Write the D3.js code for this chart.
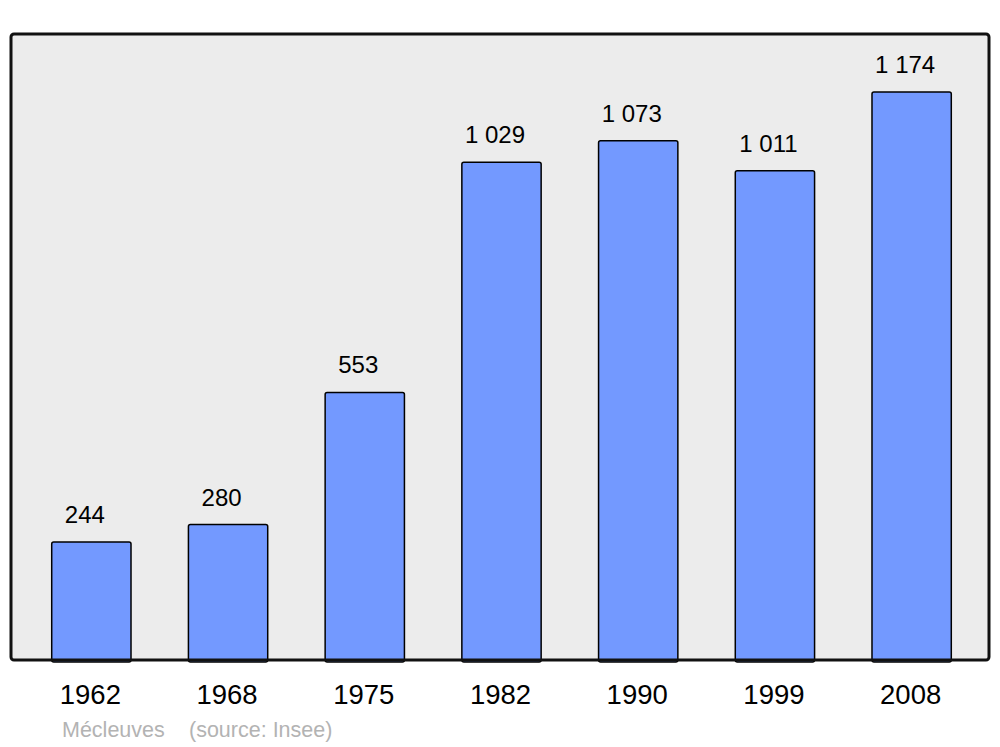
<!DOCTYPE html>
<html>
<head>
	<meta charset="utf-8">
	<script src="https://cdn.jsdelivr.net/npm/d3@7/dist/d3.min.js"></script>
	<style type="text/css">
		body { margin: 0; padding: 0; background: white; }
		svg text { font-family: "Liberation Sans", Arial, sans-serif; }
	</style>
</head>
<body>
	<script type="text/javascript">

		// population data
		var years = ["1962", "1968", "1975", "1982", "1990", "1999", "2008"];
		var population = [244, 280, 553, 1029, 1073, 1011, 1174];
		var valueLabels = ["244", "280", "553", "1 029", "1 073", "1 011", "1 174"];

		var width = 1000, height = 747;
		var frame = {left: 11, top: 34, right: 989, bottom: 660};

		var svg = d3.select("body").append("svg")
			.attr("width", width)
			.attr("height", height);

		// plot background
		svg.append("rect")
			.attr("x", frame.left)
			.attr("y", frame.top)
			.attr("width", frame.right - frame.left)
			.attr("height", frame.bottom - frame.top)
			.attr("rx", 3)
			.style("fill", "#ececec")
			.style("stroke", "none");

		var x = d3.scaleBand()
			.domain(years)
			.range([23, 980])
			.paddingInner(0.42)
			.paddingOuter(0.21);

		var y = d3.scaleLinear()
			.domain([0, 1174])
			.range([frame.bottom, 92]);

		var data = years.map(function(d, i){ return {year: d, v: population[i], label: valueLabels[i]}; });

		// bars
		svg.selectAll("rect.bar").data(data).enter().append("rect")
			.attr("class", "bar")
			.attr("x", function(d){ return x(d.year); })
			.attr("y", function(d){ return y(d.v); })
			.attr("width", x.bandwidth())
			.attr("height", function(d){ return frame.bottom - y(d.v) + 2; })
			.attr("rx", 2)
			.style("fill", "#7399ff")
			.style("stroke", "black")
			.style("stroke-width", 1.5);

		// value labels
		svg.selectAll("text.val").data(data).enter().append("text")
			.attr("class", "val")
			.attr("x", function(d){ return x(d.year) + x.bandwidth() / 2 - 6.5; })
			.attr("y", function(d){ return y(d.v) - 19; })
			.attr("text-anchor", "middle")
			.style("font-size", "24px")
			.style("fill", "black")
			.text(function(d){ return d.label; });

		// frame border
		svg.append("rect")
			.attr("x", frame.left)
			.attr("y", frame.top)
			.attr("width", frame.right - frame.left)
			.attr("height", frame.bottom - frame.top)
			.attr("rx", 3)
			.style("fill", "none")
			.style("stroke", "#111")
			.style("stroke-width", 3);

		// year axis
		var axis = svg.append("g")
			.attr("transform", "translate(0," + frame.bottom + ")")
			.call(d3.axisBottom(x).tickSize(0).tickPadding(0));
		axis.select(".domain").remove();
		axis.selectAll("text")
			.attr("x", -1)
			.attr("y", 44)
			.attr("dy", null)
			.style("font-family", "'Liberation Sans', Arial, sans-serif")
			.style("font-size", "27.5px")
			.style("fill", "black");

		// footer
		svg.append("text")
			.attr("x", 62)
			.attr("y", 737)
			.style("font-size", "21.5px")
			.style("fill", "#b3b3b3")
			.text("Mécleuves");
		svg.append("text")
			.attr("x", 189)
			.attr("y", 737)
			.style("font-size", "21.5px")
			.style("fill", "#b3b3b3")
			.text("(source: Insee)");

	</script>
</body>
</html>
